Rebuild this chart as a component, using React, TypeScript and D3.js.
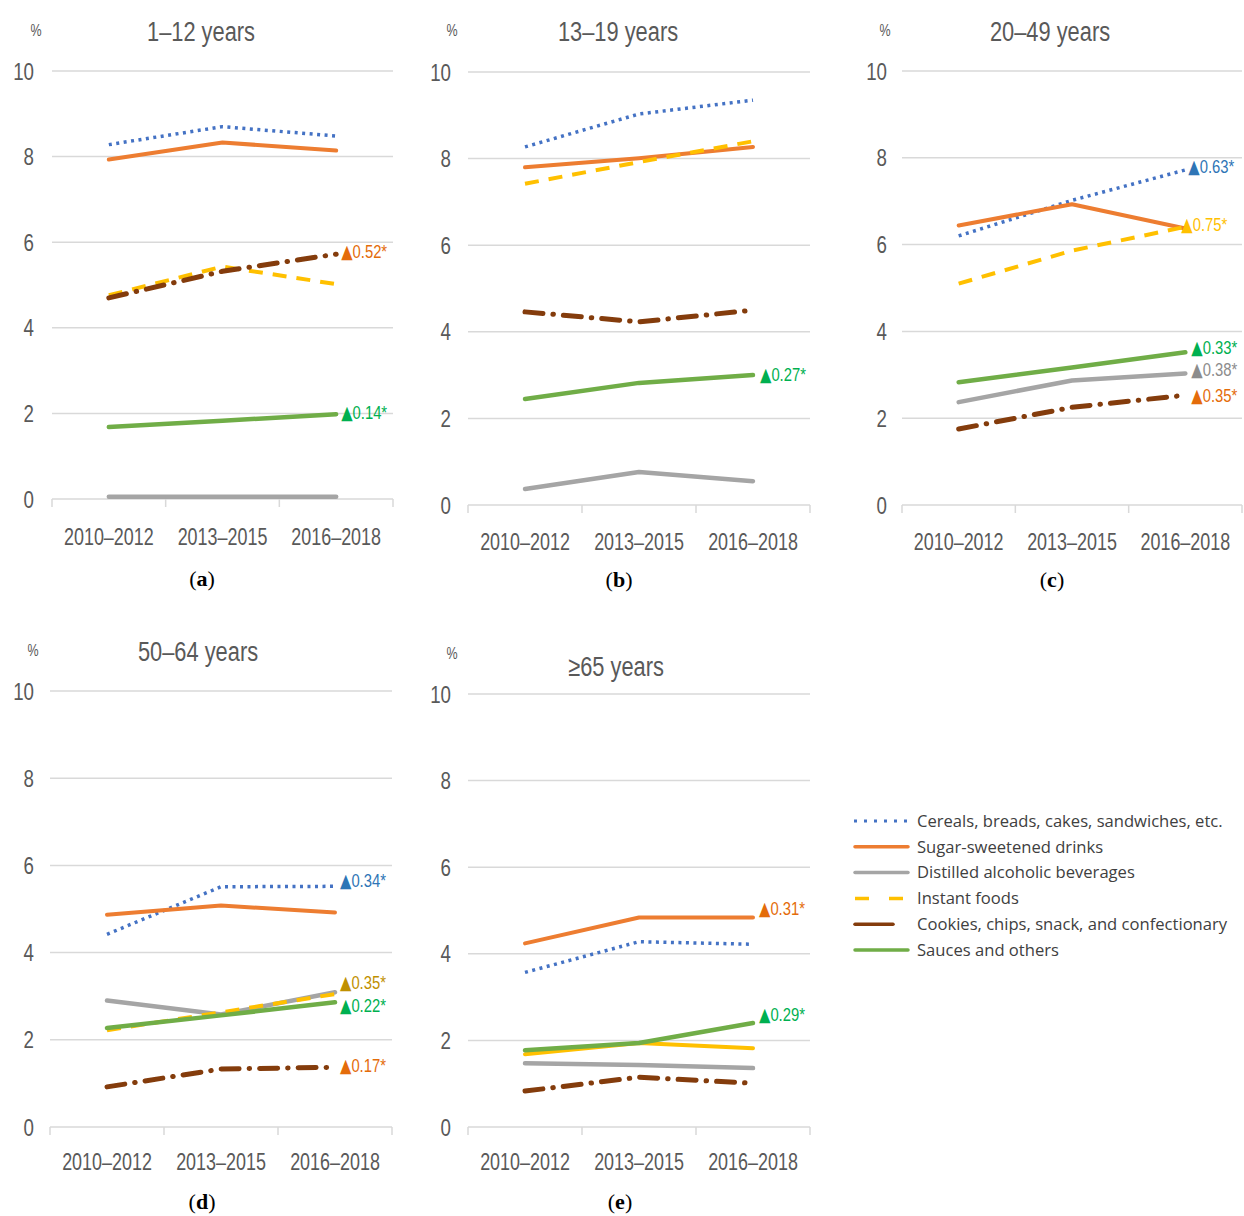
import React from "react";
import * as d3 from "d3";

// ---------- data ----------
const periods = ["2010–2012", "2013–2015", "2016–2018"];
const panelTitles = ["1–12 years", "13–19 years", "20–49 years", "50–64 years", "≥65 years"];
const panelCaptions = ["a", "b", "c", "d", "e"];
const yTicks = [0, 2, 4, 6, 8, 10];

const seriesNames = [
  "Cereals, breads, cakes, sandwiches, etc.",
  "Sugar-sweetened drinks",
  "Distilled alcoholic beverages",
  "Instant foods",
  "Cookies, chips, snack, and confectionary",
  "Sauces and others",
];

// values per panel (a..e), each [2010–2012, 2013–2015, 2016–2018]
const cereals = [
  [8.28, 8.7, 8.48],
  [8.27, 9.03, 9.35],
  [6.2, 7.02, 7.72],
  [4.42, 5.51, 5.52],
  [3.57, 4.28, 4.22],
];
const sugarDrinks = [
  [7.93, 8.33, 8.14],
  [7.8, 8.01, 8.27],
  [6.44, 6.93, 6.37],
  [4.87, 5.08, 4.92],
  [4.24, 4.84, 4.84],
];
const alcohol = [
  [0.05, 0.05, 0.05],
  [0.37, 0.76, 0.55],
  [2.37, 2.87, 3.03],
  [2.9, 2.58, 3.09],
  [1.47, 1.43, 1.36],
];
const instantFoods = [
  [4.76, 5.43, 5.02],
  [7.42, 7.92, 8.4],
  [5.1, 5.86, 6.41],
  [2.22, 2.63, 3.05],
  [1.68, 1.94, 1.82],
];
const cookies = [
  [4.7, 5.32, 5.72],
  [4.46, 4.23, 4.5],
  [1.75, 2.25, 2.53],
  [0.92, 1.33, 1.37],
  [0.83, 1.15, 1.01],
];
const sauces = [
  [1.68, 1.83, 1.98],
  [2.45, 2.82, 3.0],
  [2.83, 3.17, 3.52],
  [2.27, 2.56, 2.86],
  [1.77, 1.94, 2.4],
];

// annotations: panel, series index, label
const annotationPanels = [0, 0, 1, 2, 2, 2, 2, 2, 3, 3, 3, 3, 4, 4];
const annotationSeries = [4, 5, 5, 0, 3, 5, 2, 4, 0, 3, 5, 4, 1, 5];
const annotationLabels = [
  "0.52*", "0.14*", "0.27*", "0.63*", "0.75*", "0.33*", "0.38*", "0.35*",
  "0.34*", "0.35*", "0.22*", "0.17*", "0.31*", "0.29*",
];

// ---------- styles / layout ----------
const allSeries = [cereals, sugarDrinks, alcohol, instantFoods, cookies, sauces];
const seriesColors = ["#4472C4", "#ED7D31", "#A5A5A5", "#FFC000", "#843C0C", "#70AD47"];
const seriesWidths = [3.5, 4, 4.5, 4, 5, 4.5];
const seriesDash = ["3 4.5", null, null, "14 10", "18 10 0.5 10", null];
const seriesCaps = ["butt", "round", "round", "butt", "round", "round"];
const annotationColors = [
  "#E46C0A", "#00B050", "#00B050", "#2E75B6", "#FFC000", "#00B050", "#8C8C8C", "#E46C0A",
  "#2E75B6", "#BF9000", "#00B050", "#E46C0A", "#E46C0A", "#00B050",
];
const annotationDx = [5, 5, 7, 3, -4, 6, 6, 6, 5, 5, 5, 5, 6, 6];
const annotationDy = [-3, -2, -1, -4, -3, -5, -4, 0, -6, -12, 3, -2, -9, -9];

const layout = [
  { left: 52, right: 393, y10: 71, y0: 499, ylabX: 34, titleX: 201, titleY: 41, pctX: 36, pctY: 36, xlabY: 545, capX: 202, capY: 586 },
  { left: 468, right: 810, y10: 72, y0: 505, ylabX: 451, titleX: 618, titleY: 41, pctX: 452, pctY: 36, xlabY: 550, capX: 619, capY: 587 },
  { left: 902, right: 1242, y10: 71, y0: 505, ylabX: 887, titleX: 1050, titleY: 41, pctX: 885, pctY: 36, xlabY: 550, capX: 1052, capY: 587 },
  { left: 50, right: 392, y10: 691, y0: 1127, ylabX: 34, titleX: 198, titleY: 661, pctX: 33, pctY: 656, xlabY: 1170, capX: 202, capY: 1209 },
  { left: 468, right: 810, y10: 694, y0: 1127, ylabX: 451, titleX: 616, titleY: 676, pctX: 452, pctY: 659, xlabY: 1170, capX: 620, capY: 1209 },
];

const NARROW = "'Liberation Sans', Arial, sans-serif";
const SQUEEZE = 0.78;
const AXIS_COLOR = "#595959";
const GRID_COLOR = "#D9D9D9";

function NText(props: {
  x: number;
  y: number;
  size: number;
  fill: string;
  anchor?: string;
  dy?: string;
  children: React.ReactNode;
}) {
  return (
    <text
      transform={`translate(${props.x},${props.y}) scale(${SQUEEZE},1)`}
      dy={props.dy}
      textAnchor={props.anchor ?? "start"}
      fontFamily={NARROW}
      fontSize={props.size}
      fill={props.fill}
    >
      {props.children}
    </text>
  );
}

function Panel({ idx }: { idx: number }) {
  const L = layout[idx];
  const x = d3.scaleBand<string>().domain(periods).range([L.left, L.right]);
  const xc = (p: string) => (x(p) as number) + x.bandwidth() / 2;
  const y = d3.scaleLinear().domain([0, 10]).range([L.y0, L.y10]);
  const line = d3
    .line<number>()
    .x((_, i) => xc(periods[i]))
    .y((v) => y(v));
  const boundaries = [...periods.map((p) => x(p) as number), L.right];

  return (
    <g>
      {yTicks.map((t) => (
        <g key={t}>
          <line x1={L.left} x2={L.right} y1={y(t)} y2={y(t)} stroke={GRID_COLOR} strokeWidth={1.5} />
          <NText x={L.ylabX} y={y(t)} dy="0.36em" anchor="end" size={24} fill={AXIS_COLOR}>
            {t}
          </NText>
        </g>
      ))}
      {boundaries.map((b, i) => (
        <line key={i} x1={b} x2={b} y1={L.y0} y2={L.y0 + 8} stroke={GRID_COLOR} strokeWidth={1.5} />
      ))}
      {periods.map((p) => (
        <NText key={p} x={xc(p)} y={L.xlabY} anchor="middle" size={23} fill={AXIS_COLOR}>
          {p}
        </NText>
      ))}
      <NText x={L.pctX} y={L.pctY} anchor="middle" size={16} fill={AXIS_COLOR}>
        %
      </NText>
      <NText x={L.titleX} y={L.titleY} anchor="middle" size={28} fill={AXIS_COLOR}>
        {panelTitles[idx]}
      </NText>
      {allSeries.map((s, si) => {
        const solidInstantE = si === 3 && idx === 4;
        return (
          <path
            key={si}
            d={line(s[idx]) as string}
            fill="none"
            stroke={seriesColors[si]}
            strokeWidth={seriesWidths[si]}
            strokeDasharray={solidInstantE ? undefined : (seriesDash[si] ?? undefined)}
            strokeLinecap={solidInstantE ? "round" : (seriesCaps[si] as any)}
            strokeLinejoin="round"
          />
        );
      })}
      {annotationPanels.map((pi, ai) => {
        if (pi !== idx) return null;
        const si = annotationSeries[ai];
        const v = allSeries[si][idx][2];
        return (
          <NText
            key={ai}
            x={xc(periods[2]) + annotationDx[ai]}
            y={y(v) + annotationDy[ai]}
            dy="0.36em"
            size={19}
            fill={annotationColors[ai]}
          >
            <tspan fontFamily="'DejaVu Sans', sans-serif" fontSize={19}>▲</tspan>
            {annotationLabels[ai]}
          </NText>
        );
      })}
      <text x={L.capX} y={L.capY} textAnchor="middle" fontFamily="'Liberation Serif', serif" fontSize={22} fill="#000">
        (<tspan fontWeight="bold">{panelCaptions[idx]}</tspan>)
      </text>
    </g>
  );
}

function Legend() {
  const rowY = d3.scaleLinear().domain([0, 5]).range([821, 950]);
  return (
    <g>
      {seriesNames.map((name, i) => {
        const yy = rowY(i);
        const x2 = i === 4 ? 893 : 908;
        return (
          <g key={name}>
            <line
              x1={i === 0 ? 854 : 855}
              x2={x2}
              y1={yy}
              y2={yy}
              stroke={seriesColors[i]}
              strokeWidth={i === 0 ? 3 : 3.5}
              strokeDasharray={i === 0 ? "3 7" : i === 3 ? "14 20" : undefined}
              strokeLinecap={i === 0 || i === 3 ? "butt" : "round"}
            />
            <text x={917} y={yy} dy="0.35em" fontFamily="'Open Sans', sans-serif" fontSize={16.6} fill="#404040">
              {name}
            </text>
          </g>
        );
      })}
    </g>
  );
}

export default function App() {
  return (
    <svg
      width={1244}
      height={1216}
      viewBox="0 0 1244 1216"
      style={{ position: "absolute", left: 0, top: 0, background: "#fff" }}
    >
      <rect width={1244} height={1216} fill="#fff" />
      {layout.map((_, i) => (
        <Panel key={i} idx={i} />
      ))}
      <Legend />
    </svg>
  );
}
